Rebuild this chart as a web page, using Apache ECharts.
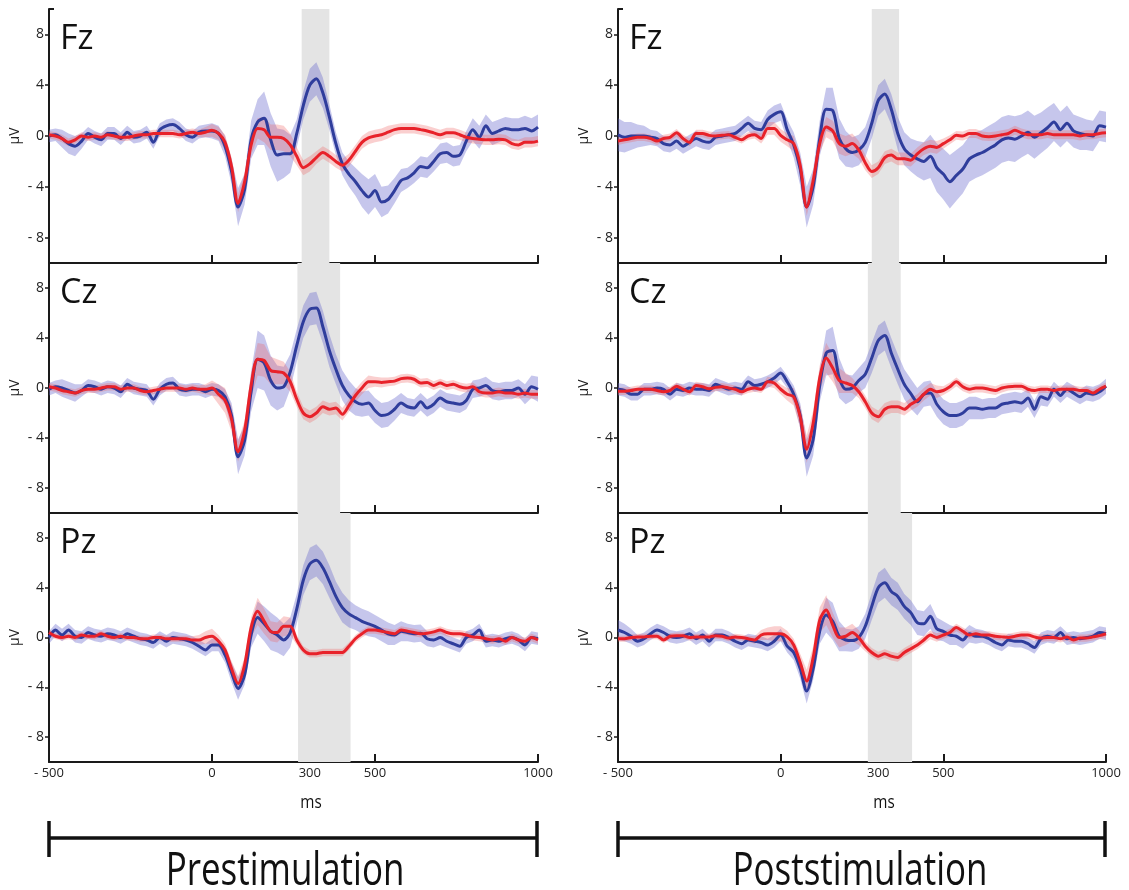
<!DOCTYPE html>
<html><head><meta charset="utf-8">
<script src="https://cdn.jsdelivr.net/npm/echarts@6/dist/echarts.min.js"></script>
<style>html,body{margin:0;padding:0;background:#fff;} #c{width:1129px;height:890px;}</style>
</head><body><div id="c"></div>
<script>
// ---- sample times (ms) ----
const times = [-500,-480,-460,-440,-420,-400,-380,-360,-340,-320,
  -300,-280,-260,-240,-220,-200,-180,-160,-140,-120,
  -100,-80,-60,-40,-20,0,20,40,60,80,
  100,120,140,160,180,200,220,240,260,280,
  300,320,340,360,380,400,420,440,460,480,
  500,520,540,560,580,600,620,640,660,680,
  700,720,740,760,780,800,820,840,860,880,
  900,920,940,960,980,1000];

// ---- tick labels ----
const xTickValues = [-500, 0, 300, 500, 1000];
const xTickMarks = [0, 300, 500, 1000];
const yTickValues = [-8, -4, 0, 4, 8];
const panelNames = ['Fz', 'Cz', 'Pz'];
const columnTitles = ['Prestimulation', 'Poststimulation'];
const axisUnitX = 'ms';
const axisUnitY = 'μV';

// ---- shaded analysis windows (ms) ----
const fzPreWindow = [275, 360];
const czPreWindow = [262, 393];
const pzPreWindow = [264, 425];
const fzPostWindow = [280, 364];
const czPostWindow = [268, 369];
const pzPostWindow = [268, 404];

// ---- Fz prestimulation ----
const fzPreBlue = [0.0,0.1,-0.2,-0.6,-0.8,-0.4,0.2,-0.1,-0.3,0.2,
  0.2,-0.2,0.3,-0.1,0.0,0.3,-0.5,0.5,0.8,0.9,
  0.6,0.1,-0.1,0.3,0.4,0.4,0.2,-0.8,-2.8,-5.6,
  -4.2,-0.3,1.1,1.4,-0.3,-1.5,-1.4,-1.4,0.2,2.4,
  4.0,4.5,3.4,1.5,-0.6,-2.2,-3.0,-3.6,-4.3,-4.8,
  -4.3,-5.2,-5.0,-4.3,-3.5,-3.3,-2.9,-2.4,-2.5,-2.0,
  -1.4,-1.3,-1.6,-1.5,-0.4,0.5,-0.1,0.8,0.2,0.4,
  0.6,0.5,0.5,0.6,0.4,0.7];
const fzPreBlueBand = [0.5,0.5,0.7,0.8,0.8,0.6,0.5,0.5,0.5,0.5,
  0.5,0.5,0.5,0.5,0.5,0.5,0.5,0.5,0.5,0.5,
  0.5,0.5,0.5,0.5,0.5,0.6,0.6,0.8,1.0,1.5,
  1.2,1.5,1.8,2.1,2.1,2.1,1.9,1.5,1.1,1.1,
  1.3,1.3,1.2,1.0,0.9,0.9,1.0,1.1,1.3,1.4,
  1.3,1.2,1.1,1.0,0.9,0.8,0.8,0.8,0.8,0.8,
  0.8,0.8,0.8,0.8,0.8,0.9,0.9,0.9,0.9,0.9,
  0.9,0.9,0.9,1.0,1.0,1.0];
const fzPreRed = [0.1,0.0,-0.2,-0.5,-0.3,0.0,-0.1,0.0,-0.1,0.1,
  0.0,-0.1,-0.1,0.0,0.1,0.1,0.2,0.2,0.2,0.2,
  0.1,0.2,0.3,0.2,0.3,0.45,0.2,-0.5,-2.4,-5.3,
  -3.6,-0.7,0.6,0.5,-0.1,-0.1,-0.2,-0.7,-1.6,-2.5,
  -2.2,-1.7,-1.3,-1.6,-2.0,-2.3,-1.9,-1.2,-0.5,-0.15,
  0.0,0.1,0.3,0.5,0.6,0.6,0.6,0.5,0.4,0.25,
  0.1,0.25,0.25,0.1,-0.1,-0.2,-0.25,-0.3,-0.3,-0.25,
  -0.3,-0.6,-0.7,-0.5,-0.5,-0.4];
const fzPreRedBand = [0.3,0.3,0.3,0.3,0.3,0.3,0.3,0.3,0.3,0.3,
  0.3,0.3,0.3,0.3,0.3,0.3,0.3,0.3,0.3,0.3,
  0.3,0.3,0.3,0.3,0.4,0.5,0.5,0.6,0.7,0.7,
  0.7,0.8,0.8,1.0,1.0,1.0,1.0,0.9,0.7,0.6,
  0.6,0.5,0.5,0.5,0.5,0.5,0.5,0.5,0.5,0.5,
  0.5,0.5,0.5,0.4,0.4,0.4,0.4,0.4,0.4,0.4,
  0.4,0.4,0.4,0.4,0.4,0.4,0.4,0.4,0.4,0.4,
  0.4,0.4,0.4,0.4,0.4,0.4];

// ---- Cz prestimulation ----
const czPreBlue = [-0.1,0.1,0.0,-0.2,-0.4,-0.2,0.2,0.1,-0.1,0.1,
  0.0,-0.3,0.3,0.0,-0.1,-0.2,-0.9,-0.1,0.3,0.4,
  -0.1,-0.2,-0.1,-0.1,-0.3,-0.1,-0.2,-0.7,-2.2,-5.5,
  -4.2,-0.3,2.3,2.0,0.6,0.0,0.1,1.3,3.4,5.3,
  6.3,6.4,4.9,3.0,1.5,0.2,-0.6,-1.1,-1.3,-1.2,
  -1.8,-2.2,-2.1,-1.7,-1.2,-1.5,-1.6,-1.1,-1.6,-1.3,
  -0.8,-1.1,-1.2,-1.3,-1.0,-0.1,0.0,0.2,-0.2,-0.3,
  -0.2,-0.2,0.0,-0.5,0.1,-0.1];
const czPreBlueBand = [0.5,0.5,0.7,0.7,0.7,0.5,0.5,0.5,0.5,0.5,
  0.5,0.5,0.5,0.5,0.5,0.5,0.5,0.5,0.5,0.5,
  0.5,0.5,0.5,0.5,0.5,0.5,0.5,0.6,1.0,1.4,
  1.2,1.6,2.3,2.2,2.0,1.8,1.6,1.4,1.3,1.3,
  1.3,1.3,1.3,1.3,1.2,1.2,1.2,1.1,1.0,1.0,
  1.0,1.0,1.0,0.9,0.8,0.7,0.7,0.7,0.7,0.7,
  0.7,0.7,0.7,0.7,0.7,0.7,0.7,0.7,0.7,0.7,
  0.7,0.7,0.7,0.8,0.9,1.0];
const czPreRed = [0.1,0.0,-0.2,-0.3,-0.4,-0.2,-0.1,-0.1,0.0,0.1,
  0.1,-0.1,0.0,0.0,-0.2,-0.3,-0.2,-0.1,0.0,0.0,
  0.0,-0.1,0.0,-0.1,-0.1,0.0,-0.5,-1.0,-2.5,-5.1,
  -3.4,0.2,2.3,2.2,1.4,1.3,1.2,0.5,-0.9,-2.0,
  -2.3,-2.0,-1.5,-1.7,-1.6,-2.1,-1.4,-0.6,0.0,0.5,
  0.5,0.45,0.5,0.55,0.75,0.8,0.7,0.4,0.45,0.2,
  0.4,0.2,0.3,0.1,0.0,0.1,-0.3,-0.4,-0.4,-0.3,
  -0.4,-0.4,-0.5,-0.4,-0.5,-0.5];
const czPreRedBand = [0.3,0.3,0.3,0.3,0.3,0.3,0.3,0.3,0.3,0.3,
  0.3,0.3,0.3,0.3,0.3,0.3,0.3,0.3,0.3,0.3,
  0.3,0.3,0.3,0.3,0.4,0.6,0.8,1.0,1.0,0.8,
  0.8,1.0,1.3,1.3,1.1,1.0,0.9,0.8,0.6,0.5,
  0.5,0.5,0.5,0.5,0.5,0.5,0.5,0.5,0.5,0.5,
  0.4,0.4,0.35,0.35,0.35,0.35,0.35,0.35,0.35,0.35,
  0.35,0.35,0.35,0.35,0.35,0.35,0.35,0.35,0.35,0.35,
  0.35,0.35,0.35,0.35,0.35,0.35];

// ---- Pz prestimulation ----
const pzPreBlue = [0.0,0.6,0.2,0.6,0.1,0.0,0.4,0.2,0.1,0.3,
  0.2,0.0,0.3,0.1,-0.1,-0.2,-0.4,0.0,-0.3,0.0,
  -0.1,-0.2,-0.4,-0.7,-1.0,-0.6,-0.6,-1.4,-2.8,-4.1,
  -3.0,0.2,1.6,1.1,0.5,0.2,-0.2,0.4,2.3,4.6,
  5.9,6.2,5.6,4.5,3.3,2.4,1.9,1.6,1.3,1.1,
  0.9,0.6,0.3,0.2,0.5,0.4,0.3,0.35,-0.1,-0.2,
  0.0,-0.3,-0.5,-0.7,0.0,0.2,0.6,-0.3,-0.2,-0.3,
  -0.1,0.0,-0.2,-0.6,0.0,-0.1];
const pzPreBlueBand = [0.5,0.5,0.5,0.5,0.5,0.5,0.5,0.5,0.5,0.5,
  0.5,0.5,0.5,0.5,0.5,0.5,0.5,0.5,0.5,0.5,
  0.5,0.5,0.5,0.5,0.5,0.5,0.5,0.6,0.8,0.9,
  0.8,1.0,1.3,1.4,1.5,1.4,1.3,1.2,1.2,1.2,
  1.3,1.3,1.3,1.3,1.2,1.2,1.1,1.0,1.0,1.0,
  0.9,0.9,0.9,0.8,0.8,0.7,0.7,0.7,0.6,0.6,
  0.6,0.5,0.5,0.5,0.5,0.5,0.5,0.5,0.5,0.5,
  0.5,0.5,0.5,0.5,0.5,0.5];
const pzPreRed = [0.4,0.1,0.0,0.1,0.0,0.2,0.1,0.1,0.3,0.1,
  0.0,0.1,0.0,0.0,-0.1,-0.1,0.0,0.0,-0.1,-0.1,
  -0.1,-0.1,-0.2,-0.2,0.0,0.1,-0.3,-1.0,-2.5,-3.7,
  -2.2,0.8,2.1,1.3,0.5,0.4,0.9,0.9,-0.2,-1.0,
  -1.3,-1.3,-1.2,-1.2,-1.2,-1.2,-0.7,-0.1,0.3,0.6,
  0.6,0.5,0.4,0.3,0.6,0.5,0.4,0.3,0.35,0.45,
  0.6,0.4,0.3,0.3,0.2,0.05,0.0,-0.1,-0.2,-0.1,
  -0.3,0.0,-0.2,-0.3,0.0,-0.2];
const pzPreRedBand = [0.25,0.25,0.25,0.25,0.25,0.25,0.25,0.25,0.25,0.25,
  0.25,0.25,0.25,0.25,0.25,0.25,0.25,0.25,0.25,0.25,
  0.25,0.25,0.3,0.4,0.5,0.6,0.5,0.5,0.6,0.6,
  0.6,0.8,1.1,1.0,0.8,0.8,0.8,0.7,0.4,0.3,
  0.3,0.3,0.3,0.3,0.3,0.3,0.3,0.3,0.3,0.3,
  0.3,0.3,0.3,0.3,0.3,0.3,0.3,0.3,0.3,0.3,
  0.3,0.3,0.3,0.3,0.3,0.3,0.3,0.3,0.3,0.3,
  0.3,0.3,0.3,0.3,0.3,0.3];

// ---- Fz poststimulation ----
const fzPostBlue = [0.1,-0.1,0.0,0.0,0.0,-0.1,-0.2,-0.6,-0.7,-0.4,
  -0.8,-0.5,-0.2,-0.4,-0.5,-0.1,0.0,0.1,0.2,0.6,
  1.0,0.6,0.5,1.3,1.7,1.9,0.5,-0.7,-2.6,-5.6,
  -4.0,-0.2,2.1,2.0,-0.2,-1.0,-1.3,-1.1,-0.5,1.0,
  2.8,3.3,2.1,0.2,-1.0,-1.5,-1.8,-2.0,-1.6,-2.5,
  -3.0,-3.6,-3.1,-2.6,-1.8,-1.5,-1.3,-1.0,-0.7,-0.3,
  -0.15,-0.25,0.0,0.3,-0.1,0.25,0.65,1.1,0.5,1.0,
  0.4,0.2,0.1,0.0,0.8,0.7];
const fzPostBlueBand = [1.3,1.2,1.1,0.9,0.8,0.6,0.6,0.6,0.6,0.6,
  0.6,0.6,0.6,0.6,0.6,0.6,0.6,0.6,0.6,0.6,
  0.6,0.6,0.6,0.7,0.7,0.7,0.8,1.0,1.3,1.6,
  1.4,1.4,1.7,1.8,1.6,1.4,1.2,1.2,1.2,1.2,
  1.2,1.2,1.2,1.3,1.3,1.3,1.4,1.5,1.7,1.9,
  2.0,2.1,2.0,1.9,1.8,1.8,1.8,1.8,1.8,1.8,
  1.8,1.8,1.7,1.7,1.7,1.6,1.6,1.5,1.4,1.4,
  1.3,1.3,1.2,1.2,1.2,1.2];
const fzPostRed = [-0.4,-0.3,-0.2,-0.1,-0.1,-0.2,-0.4,-0.2,-0.1,0.25,
  -0.2,-0.5,0.2,0.2,0.05,0.0,0.05,0.1,-0.1,-0.3,
  0.0,0.1,-0.2,0.6,0.6,0.05,-0.3,-0.6,-2.3,-5.6,
  -3.5,-0.6,0.7,0.4,-0.6,-0.8,-0.6,-1.1,-2.1,-2.8,
  -2.5,-1.7,-1.5,-1.8,-1.8,-1.9,-1.4,-1.0,-0.8,-0.9,
  -0.6,-0.3,0.05,0.0,0.2,0.2,0.0,-0.05,0.0,0.1,
  0.2,0.45,0.25,0.1,0.1,0.1,0.2,0.1,0.1,0.1,
  0.1,0.0,0.1,0.1,0.2,0.25];
const fzPostRedBand = [0.3,0.3,0.3,0.3,0.3,0.3,0.3,0.3,0.3,0.3,
  0.3,0.3,0.3,0.3,0.3,0.3,0.3,0.3,0.3,0.3,
  0.3,0.3,0.4,0.5,0.5,0.5,0.5,0.6,0.7,0.7,
  0.7,0.7,0.8,0.8,0.8,0.8,0.8,0.7,0.6,0.5,
  0.5,0.5,0.5,0.5,0.5,0.5,0.5,0.5,0.5,0.5,
  0.4,0.35,0.35,0.35,0.35,0.35,0.35,0.35,0.35,0.35,
  0.35,0.35,0.35,0.35,0.35,0.35,0.35,0.35,0.35,0.35,
  0.35,0.35,0.35,0.35,0.35,0.35];

// ---- Cz poststimulation ----
const czPostBlue = [-0.1,-0.2,-0.5,-0.5,-0.1,-0.1,0.0,-0.1,-0.5,-0.1,
  -0.2,0.0,-0.1,-0.1,-0.2,0.3,0.1,-0.1,0.0,-0.1,
  0.5,0.2,0.3,0.5,0.8,1.2,0.5,-0.5,-2.2,-5.6,
  -4.1,0.2,2.8,3.0,0.8,-0.1,0.0,0.6,1.1,2.4,
  3.8,4.2,2.8,1.5,0.3,-0.45,-1.1,-0.5,-0.4,-1.3,
  -1.9,-2.2,-2.2,-2.0,-1.6,-1.6,-1.7,-1.6,-1.6,-1.3,
  -1.2,-1.1,-1.2,-0.8,-1.7,-0.7,-0.9,-0.1,-0.6,-0.1,
  -0.4,-0.7,-0.4,-0.5,-0.3,0.15];
const czPostBlueBand = [0.5,0.5,0.5,0.5,0.5,0.5,0.5,0.5,0.5,0.5,
  0.5,0.5,0.5,0.5,0.5,0.5,0.5,0.5,0.5,0.5,
  0.5,0.5,0.5,0.5,0.5,0.5,0.5,0.7,1.0,1.5,
  1.3,1.3,1.8,1.9,1.6,1.2,1.0,1.0,1.1,1.2,
  1.2,1.2,1.2,1.2,1.2,1.2,1.1,1.0,1.0,1.0,
  1.0,1.0,1.0,1.0,0.9,0.9,0.8,0.8,0.8,0.8,
  0.8,0.8,0.8,0.7,0.7,0.7,0.6,0.6,0.6,0.6,
  0.6,0.6,0.6,0.6,0.6,0.6];
const czPostRed = [-0.25,-0.25,-0.2,-0.1,-0.1,-0.1,-0.2,-0.3,-0.2,0.15,
  -0.1,-0.3,0.2,0.1,-0.05,0.05,0.1,0.0,-0.1,-0.3,
  -0.1,0.0,-0.1,0.5,0.4,-0.1,-0.5,-0.7,-2.3,-4.9,
  -2.8,0.8,2.4,1.6,0.6,0.4,0.2,-0.3,-1.1,-2.0,
  -2.3,-1.7,-1.5,-1.5,-1.7,-1.3,-1.0,-0.5,-0.1,-0.3,
  -0.2,0.1,0.5,0.1,-0.1,0.0,0.0,-0.1,-0.2,0.0,
  0.1,0.15,0.15,-0.1,-0.2,-0.1,-0.1,-0.2,-0.1,-0.1,
  -0.1,-0.2,-0.2,-0.4,-0.1,0.15];
const czPostRedBand = [0.3,0.3,0.3,0.3,0.3,0.3,0.3,0.3,0.3,0.3,
  0.3,0.3,0.3,0.3,0.3,0.3,0.3,0.3,0.3,0.3,
  0.3,0.3,0.3,0.4,0.4,0.4,0.5,0.7,0.9,1.1,
  1.0,1.0,1.2,1.1,1.0,0.8,0.6,0.5,0.5,0.5,
  0.5,0.5,0.5,0.5,0.5,0.5,0.5,0.5,0.5,0.5,
  0.35,0.35,0.35,0.35,0.35,0.35,0.35,0.35,0.35,0.35,
  0.3,0.3,0.3,0.3,0.3,0.3,0.3,0.3,0.3,0.3,
  0.3,0.3,0.3,0.3,0.3,0.3];

// ---- Pz poststimulation ----
const pzPostBlue = [0.6,0.4,0.1,-0.3,-0.1,0.3,0.6,0.4,0.1,0.0,
  0.1,0.3,-0.1,0.2,-0.3,0.2,0.2,0.0,-0.3,-0.5,
  -0.2,-0.3,-0.4,-0.6,-0.3,0.2,-0.7,-1.2,-2.5,-4.3,
  -2.5,0.5,1.8,1.3,0.1,-0.2,-0.25,0.0,0.9,2.5,
  4.0,4.4,3.7,3.3,2.5,2.0,1.2,1.1,1.7,0.7,
  0.5,0.2,0.1,-0.2,0.3,0.1,0.1,-0.1,-0.4,-0.6,
  -0.2,-0.3,-0.3,-0.5,-0.8,-0.1,0.1,0.0,0.4,-0.1,
  0.0,-0.1,0.0,0.1,0.4,0.3];
const pzPostBlueBand = [0.8,0.7,0.6,0.5,0.5,0.5,0.5,0.5,0.5,0.5,
  0.5,0.5,0.5,0.5,0.5,0.5,0.5,0.5,0.5,0.5,
  0.5,0.5,0.5,0.5,0.5,0.5,0.5,0.6,0.8,1.0,
  0.9,1.0,1.4,1.5,1.2,0.9,0.9,0.9,1.0,1.1,
  1.2,1.2,1.1,1.1,1.0,1.0,1.0,1.0,1.0,0.9,
  0.8,0.8,0.7,0.7,0.7,0.6,0.5,0.5,0.5,0.5,
  0.5,0.5,0.5,0.5,0.5,0.5,0.5,0.5,0.5,0.5,
  0.5,0.5,0.5,0.5,0.5,0.5];
const pzPostRed = [-0.1,-0.1,0.0,0.05,0.05,0.1,0.1,-0.2,0.1,0.15,
  0.15,0.0,0.05,0.05,0.05,0.15,0.1,-0.05,0.05,0.0,
  -0.1,-0.2,0.2,0.3,0.3,0.3,0.05,-0.6,-2.0,-3.5,
  -1.6,1.4,2.2,1.0,0.0,0.1,0.4,0.0,-0.7,-1.2,
  -1.5,-1.3,-1.5,-1.6,-1.2,-0.9,-0.6,-0.2,0.2,0.0,
  0.2,0.4,0.8,0.5,0.2,0.3,0.2,0.2,0.1,0.05,
  0.0,0.1,0.2,0.2,0.05,-0.05,0.0,0.0,-0.1,0.05,
  -0.2,-0.05,-0.05,0.05,0.15,0.3];
const pzPostRedBand = [0.25,0.25,0.25,0.25,0.25,0.25,0.25,0.25,0.25,0.25,
  0.25,0.25,0.25,0.25,0.25,0.25,0.25,0.25,0.25,0.25,
  0.25,0.3,0.4,0.5,0.6,0.6,0.5,0.5,0.7,0.9,
  0.9,1.0,1.2,1.0,0.8,0.7,0.7,0.6,0.4,0.35,
  0.35,0.35,0.35,0.35,0.35,0.35,0.35,0.35,0.35,0.35,
  0.3,0.3,0.3,0.3,0.3,0.3,0.3,0.3,0.3,0.3,
  0.3,0.3,0.3,0.3,0.3,0.3,0.3,0.3,0.3,0.3,
  0.3,0.3,0.3,0.3,0.3,0.3];

// ---- assemble ----
const panels = [
  {row:0, col:0, blue:fzPreBlue, blueBand:fzPreBlueBand, red:fzPreRed, redBand:fzPreRedBand, win:fzPreWindow},
  {row:1, col:0, blue:czPreBlue, blueBand:czPreBlueBand, red:czPreRed, redBand:czPreRedBand, win:czPreWindow},
  {row:2, col:0, blue:pzPreBlue, blueBand:pzPreBlueBand, red:pzPreRed, redBand:pzPreRedBand, win:pzPreWindow},
  {row:0, col:1, blue:fzPostBlue, blueBand:fzPostBlueBand, red:fzPostRed, redBand:fzPostRedBand, win:fzPostWindow},
  {row:1, col:1, blue:czPostBlue, blueBand:czPostBlueBand, red:czPostRed, redBand:czPostRedBand, win:czPostWindow},
  {row:2, col:1, blue:pzPostBlue, blueBand:pzPostBlueBand, red:pzPostRed, redBand:pzPostRedBand, win:pzPostWindow}
];

const colLeft = [49, 618], colWidth = [489, 488];
const rowTop = [9, 263, 513], rowHeight = [254, 250, 249];
const AX = '#1a1a1a';
const FONT = '"Open Sans", "Noto Sans", sans-serif';
const BLUE = '#2f3d9c', RED = '#e8222a';
const BLUE_BAND = 'rgba(105,105,205,0.38)', RED_BAND = 'rgba(240,95,95,0.3)';
const fmt = v => (v < 0 ? '- ' + Math.abs(v) : String(v));

const grids = [], xAxes = [], yAxes = [], extraY = [], series = [], titles = [];
panels.forEach((p, i) => {
  grids.push({left: colLeft[p.col], width: colWidth[p.col], top: rowTop[p.row], height: rowHeight[p.row]});
  xAxes.push({
    gridIndex: i, type: 'value', min: -500, max: 1000,
    splitLine: {show: false},
    axisLine: {onZero: false, lineStyle: {color: AX, width: 2}},
    axisTick: {show: true, inside: true, length: 8, customValues: xTickMarks, lineStyle: {color: AX, width: 2}},
    axisLabel: {show: p.row === 2, customValues: xTickValues, formatter: fmt, fontSize: 13, color: '#222', margin: 5, fontFamily: FONT}
  });
  yAxes.push({
    gridIndex: i, type: 'value', min: -10, max: 10, position: 'left',
    name: axisUnitY, nameLocation: 'middle', nameRotate: 90, nameGap: 27,
    nameTextStyle: {fontSize: 14, color: '#222', fontFamily: FONT},
    splitLine: {show: false},
    axisLine: {onZero: false, lineStyle: {color: AX, width: 2}},
    axisTick: {show: true, inside: false, length: 4, customValues: yTickValues, lineStyle: {color: AX, width: 1.5}},
    axisLabel: {customValues: yTickValues, formatter: fmt, fontSize: 14, color: '#222', margin: 5, fontFamily: FONT}
  });
  extraY.push({
    gridIndex: i, type: 'value', min: -10, max: 10, position: 'left', offset: 0,
    splitLine: {show: false}, axisLine: {show: false, onZero: false},
    axisTick: {show: true, inside: true, length: 5, customValues: [10], lineStyle: {color: AX, width: 2}},
    axisLabel: {show: false}
  });
  titles.push({text: panelNames[p.row], left: colLeft[p.col] + 11, top: rowTop[p.row] + 13, padding: 0,
    textStyle: {fontSize: 34, fontWeight: 'normal', color: '#111', fontFamily: FONT}});

  const win = p.win;
  series.push({
    type: 'custom', xAxisIndex: i, yAxisIndex: i, z: 1, silent: true, clip: true,
    data: [[win[0], 0]],
    renderItem: (params, api) => {
      const a = api.coord([win[0], 10]);
      const b = api.coord([win[1], -10]);
      return {type: 'rect', shape: {x: a[0], y: a[1], width: b[0] - a[0], height: b[1] - a[1]}, style: {fill: '#e4e4e4'}};
    }
  });
  const band = (mean, hw, color) => ({
    type: 'custom', xAxisIndex: i, yAxisIndex: i, z: 2, silent: true, clip: true,
    data: [[times[0], mean[0]]],
    renderItem: (params, api) => {
      const pts = [];
      for (let k = 0; k < times.length; k++) pts.push(api.coord([times[k], mean[k] + hw[k]]));
      for (let k = times.length - 1; k >= 0; k--) pts.push(api.coord([times[k], mean[k] - hw[k]]));
      return {type: 'polygon', shape: {points: pts}, style: {fill: color}};
    }
  });
  series.push(band(p.blue, p.blueBand, BLUE_BAND));
  series.push(band(p.red, p.redBand, RED_BAND));
  const line = (vals, color, z) => ({
    type: 'line', xAxisIndex: i, yAxisIndex: i, z, silent: true, clip: true,
    data: times.map((t, k) => [t, vals[k]]),
    showSymbol: false, smooth: 0.3,
    lineStyle: {color, width: 3}
  });
  series.push(line(p.blue, BLUE, 3));
  series.push(line(p.red, RED, 4));
});

const graphic = [];
[0, 1].forEach(c => {
  const x1 = colLeft[c], x2 = colLeft[c] + colWidth[c] - 1;
  graphic.push({type: 'line', silent: true, shape: {x1, y1: 838, x2, y2: 838}, style: {stroke: '#111', lineWidth: 3.5}});
  graphic.push({type: 'line', silent: true, shape: {x1, y1: 821, x2: x1, y2: 857}, style: {stroke: '#111', lineWidth: 3.5}});
  graphic.push({type: 'line', silent: true, shape: {x1: x2, y1: 821, x2, y2: 857}, style: {stroke: '#111', lineWidth: 3.5}});
  graphic.push({type: 'text', silent: true, x: c === 0 ? 285 : 860, y: 872, scaleX: 0.76,
    style: {text: columnTitles[c], fontSize: 46, fontFamily: FONT, fill: '#111',
      textAlign: 'center', textVerticalAlign: 'middle', align: 'center', verticalAlign: 'middle'}});
  graphic.push({type: 'text', silent: true, x: c === 0 ? 311 : 884, y: 803, scaleX: 0.85,
    style: {text: axisUnitX, fontSize: 18, fontFamily: FONT, fill: '#111',
      textAlign: 'center', textVerticalAlign: 'middle', align: 'center', verticalAlign: 'middle'}});
});

const chart = echarts.init(document.getElementById('c'), null, {renderer: 'canvas'});
chart.setOption({
  animation: false,
  backgroundColor: '#ffffff',
  title: titles,
  grid: grids,
  xAxis: xAxes,
  yAxis: yAxes.concat(extraY),
  series: series,
  graphic: graphic
});
</script>
</body></html>
